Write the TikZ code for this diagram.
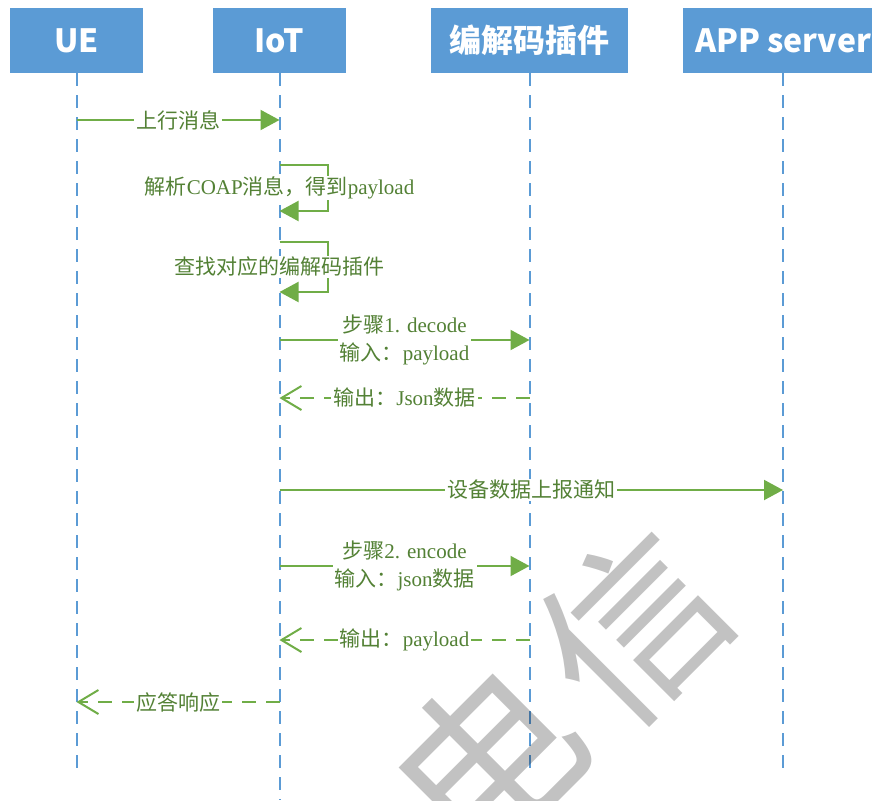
\documentclass[tikz,border=0pt]{standalone}
\usepackage{fontspec}
\setmainfont{Liberation Serif}
\newfontfamily\cjk{Noto Sans CJK SC}
\newfontfamily\hdrfont{Noto Sans CJK SC}
\usetikzlibrary{arrows.meta}
\newcommand{\zh}[1]{{\cjk #1}}
\definecolor{boxblue}{HTML}{5B9BD5}
\definecolor{linegreen}{HTML}{70AD47}
\definecolor{txtgreen}{HTML}{538135}
\tikzset{
  header/.style={fill=boxblue, draw=none, text=white, minimum height=65pt,
    inner sep=0pt, font=\hdrfont\bfseries\fontsize{32}{36}\selectfont},
  lifeline/.style={draw=boxblue, line width=2pt, dash pattern=on 13pt off 9pt},
  msg/.style={draw=linegreen, line width=2pt, -{Triangle[length=19pt,width=20pt]}},
  reply/.style={draw=linegreen, line width=2pt, dash pattern=on 14pt off 10pt,
    -{Straight Barb[length=20pt,width=24pt,line width=2pt]}},
  lbl/.style={fill=white, text=txtgreen, inner xsep=2pt, inner ysep=1pt,
    align=center, font=\fontsize{21}{28}\selectfont},
  wmark/.style={text=black, opacity=0.24, rotate=45, inner sep=0pt,
    font=\cjk\fontsize{180}{180}\selectfont}
}
\begin{document}
\begin{tikzpicture}[x=1pt,y=-1pt]
\useasboundingbox (0,0) rectangle (872,800);
% headers
\node[header, minimum width=133pt] (ue) at (76.5,40.5) {UE};
\node[header, minimum width=133pt] (iot) at (279.5,40.5) {IoT};
\node[header, minimum width=197pt] (codec) at (529.5,40.5) {编解码插件};
\node[header, minimum width=200pt] (app) at (783,40.5) {APP server};
% lifelines
\coordinate (ueend) at (76.5,775);
\coordinate (iotend) at (279.5,800);
\coordinate (codecend) at (529.5,775);
\coordinate (append) at (783,775);
\draw[lifeline] (ue.south) -- (ueend);
\draw[lifeline] (iot.south) -- (iotend);
\draw[lifeline] (codec.south) -- (codecend);
\draw[lifeline] (app.south) -- (append);
% messages
\draw[msg] (ue.south |- 0,120) -- node[lbl] {\zh{上行消息}} (iot.south |- 0,120);
\draw[msg] (iot.south |- 0,165) -- ++(48,0) -- ++(0,46) -- (iot.south |- 0,211);
\node[lbl] (l2) at (iot.south |- 0,188) {\zh{解析}COAP\zh{消息，得到}payload};
\draw[msg] (iot.south |- 0,242) -- ++(48,0) -- ++(0,50) -- (iot.south |- 0,292);
\node[lbl] (l3) at (iot.south |- 0,267) {\zh{查找对应的编解码插件}};
\draw[msg] (iot.south |- 0,340) -- node[lbl] {\zh{步骤}1. decode\\\zh{输入：}payload} (codec.south |- 0,340);
\draw[reply] (codec.south |- 0,398) -- node[lbl] {\zh{输出：}Json\zh{数据}} (iot.south |- 0,398);
\draw[msg] (iot.south |- 0,490) -- node[lbl] {\zh{设备数据上报通知}} (app.south |- 0,490);
\draw[msg] (iot.south |- 0,566) -- node[lbl] {\zh{步骤}2. encode\\\zh{输入：}json\zh{数据}} (codec.south |- 0,566);
\draw[reply] (codec.south |- 0,640) -- node[lbl] {\zh{输出：}payload} (iot.south |- 0,640);
\draw[reply] (iot.south |- 0,702) -- node[lbl] {\zh{应答响应}} (ue.south |- 0,702);
% watermark
\node[wmark] (wm1) at (486,760) {电};
\node[wmark] (wm2) at (633,627) {信};
\end{tikzpicture}
\end{document}
